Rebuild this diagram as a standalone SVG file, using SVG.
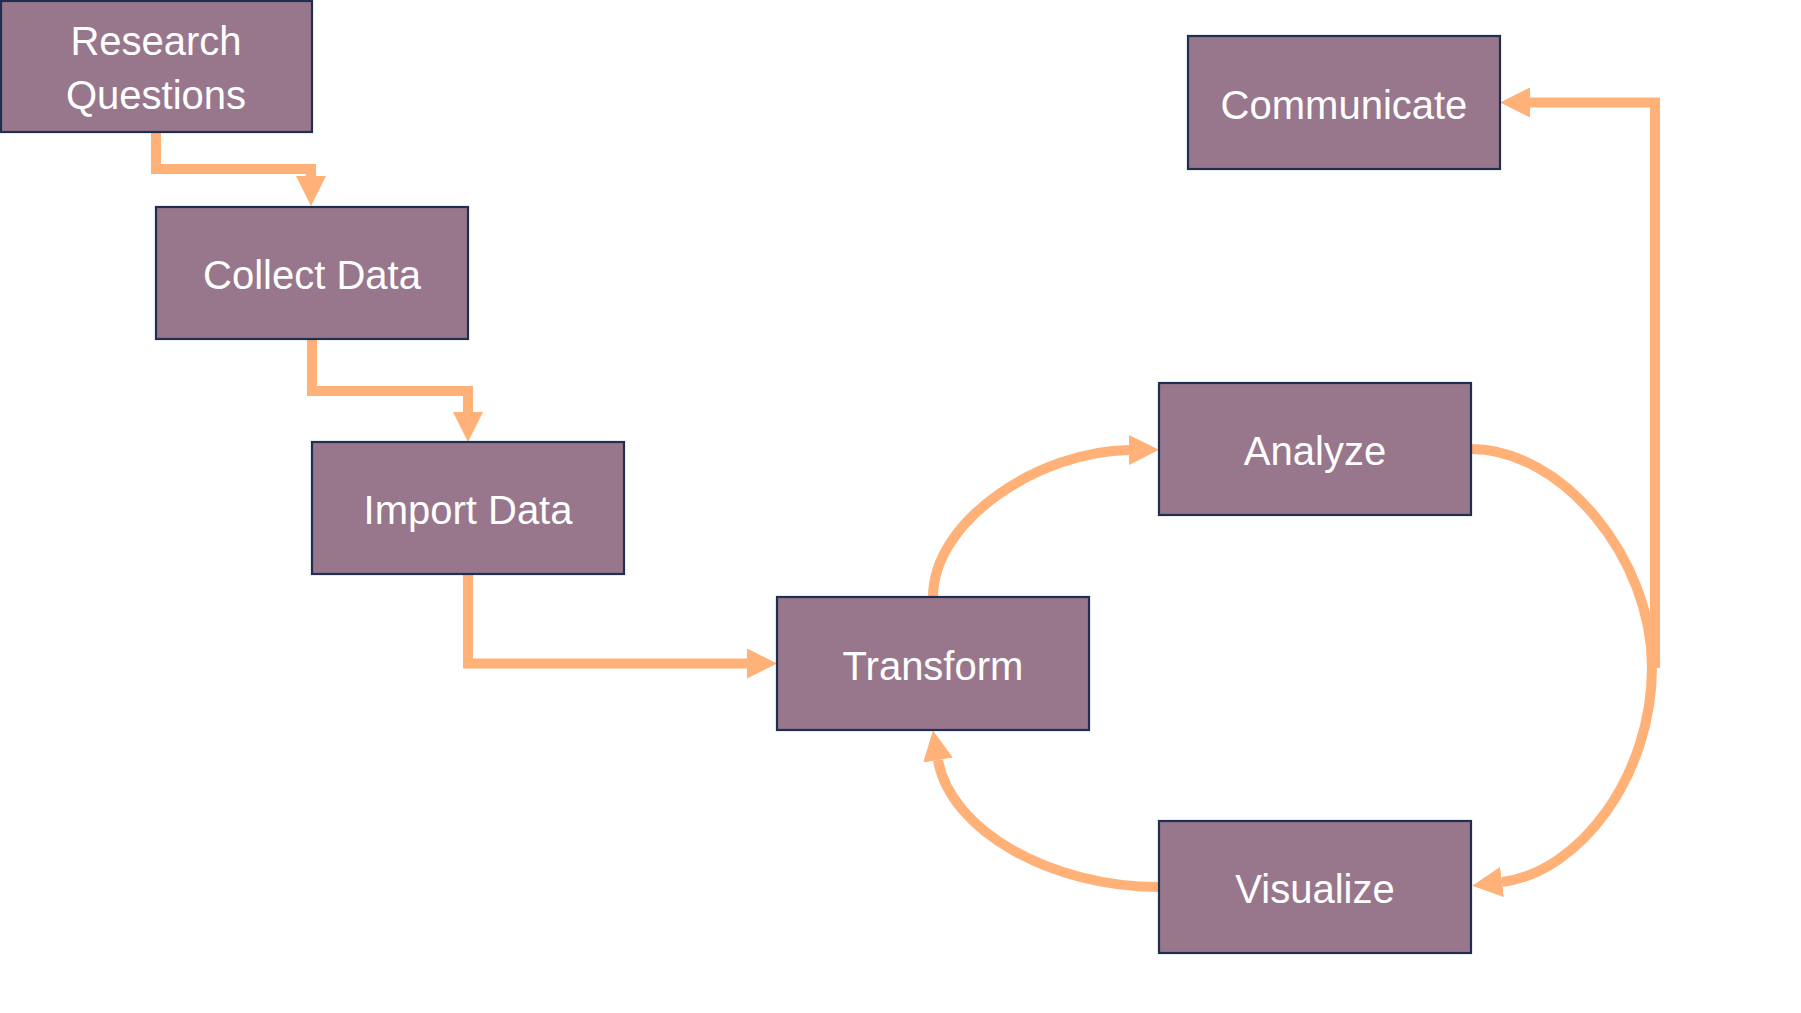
<svg xmlns="http://www.w3.org/2000/svg" width="1801" height="1013" viewBox="0 0 1801 1013">
<style>
.box{fill:#98778C;stroke:#1F2F4F;stroke-width:2.2}
.lbl{font-family:"Liberation Sans",Arial,sans-serif;font-size:40px;fill:#FFFFFF;text-anchor:middle}
.con{fill:none;stroke:#FFB178;stroke-width:10;stroke-linejoin:miter}
</style>
<defs>
<marker id="ah" viewBox="0 0 30 30" markerUnits="userSpaceOnUse" markerWidth="30" markerHeight="30" refX="0" refY="15" orient="auto">
<path d="M0,0 L30,15 L0,30 Z" fill="#FFB178"/>
</marker>
</defs>
<rect width="1801" height="1013" fill="#FFFFFF"/>
<g id="connectors">
<path class="con" d="M156,132 V169 H311 V176" marker-end="url(#ah)"/>
<path class="con" d="M312,339 V391 H468 V412" marker-end="url(#ah)"/>
<path class="con" d="M468,574 V663.5 H747" marker-end="url(#ah)"/>
<path class="con" d="M933,597 C933,520 1040,451 1129,450" marker-end="url(#ah)"/>
<path class="con" d="M1471,449 C1562,449 1652,558 1652,667 C1652,776 1580,872 1502,882" marker-end="url(#ah)"/>
<path class="con" d="M1159,887 C1050,887 950,830 938,760" marker-end="url(#ah)"/>
<path class="con" d="M1655,668 V102.5 H1530" marker-end="url(#ah)"/>
</g>
<g id="research-questions">
<rect class="box" x="1" y="1" width="311" height="131"/>
<text class="lbl" x="156" y="55">Research</text>
<text class="lbl" x="156" y="109">Questions</text>
</g>
<g id="collect-data">
<rect class="box" x="156" y="207" width="312" height="132"/>
<text class="lbl" x="312" y="289">Collect Data</text>
</g>
<g id="import-data">
<rect class="box" x="312" y="442" width="312" height="132"/>
<text class="lbl" x="468" y="524">Import Data</text>
</g>
<g id="transform">
<rect class="box" x="777" y="597" width="312" height="133"/>
<text class="lbl" x="933" y="679.5">Transform</text>
</g>
<g id="analyze">
<rect class="box" x="1159" y="383" width="312" height="132"/>
<text class="lbl" x="1315" y="464.5">Analyze</text>
</g>
<g id="visualize">
<rect class="box" x="1159" y="821" width="312" height="132"/>
<text class="lbl" x="1315" y="903">Visualize</text>
</g>
<g id="communicate">
<rect class="box" x="1188" y="36" width="312" height="133"/>
<text class="lbl" x="1344" y="118.5">Communicate</text>
</g>
</svg>
